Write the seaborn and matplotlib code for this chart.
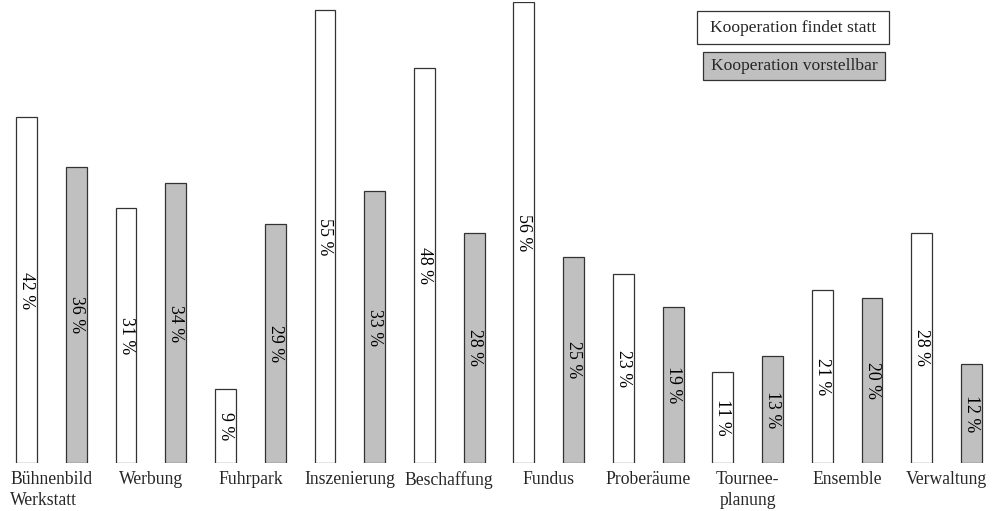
import matplotlib

matplotlib.use('Agg')
import matplotlib.pyplot as plt
from matplotlib.patches import Rectangle
import numpy as np
import pandas as pd
import seaborn as sns

categories = ['Bühnenbild\nWerkstatt', 'Werbung', 'Fuhrpark', 'Inszenierung', 'Beschaffung',
              'Fundus', 'Proberäume', 'Tournee-\nplanung', 'Ensemble', 'Verwaltung']
findet_statt = [42, 31, 9, 55, 48, 56, 23, 11, 21, 28]
vorstellbar = [36, 34, 29, 33, 28, 25, 19, 13, 20, 12]
series = ['Kooperation findet statt', 'Kooperation vorstellbar']
colors = ['white', '#c0c0c0']

df = pd.DataFrame({
    'Bereich': categories * 2,
    'Anteil': findet_statt + vorstellbar,
    'Serie': [series[0]] * len(categories) + [series[1]] * len(categories),
})

sns.set_style('white')
plt.rcParams['font.family'] = ['Liberation Serif', 'DejaVu Serif']

W, H = 995, 511
fig = plt.figure(figsize=(W / 100, H / 100), dpi=100)
ax = fig.add_axes([0, 0.0939, 1, 0.9022])

sns.barplot(data=df, x='Bereich', y='Anteil', hue='Serie', order=categories, hue_order=series,
            palette=colors, width=1.0, gap=0.58, edgecolor='#333333', linewidth=0.9,
            legend=False, ax=ax)

# Prozentwerte senkrecht in die Balkenmitte
for cont in ax.containers:
    for bar in cont:
        h = bar.get_height()
        ax.text(bar.get_x() + bar.get_width() / 2, h / 2, f'{h:.0f} %', rotation=270,
                ha='center', va='center', fontsize=12.8, color='black')

ax.set_xlim(-0.517, 9.486)
ax.set_ylim(0, 56)
ax.set_xlabel('')
ax.set_ylabel('')
ax.set_yticks([])
ax.tick_params(axis='x', length=0, pad=6, labelsize=12.7)
for lbl in ax.get_xticklabels():
    lbl.set_linespacing(1.3)
    lbl.set_multialignment('left' if lbl.get_text().startswith('Bühnen') else 'center')
sns.despine(ax=ax, left=True, bottom=True)

# Legende als umrahmte Textfelder
boxes = [(697, 11, 889, 44), (703, 52, 885, 80)]
for (x0, y0, x1, y1), name, c in zip(boxes, series, colors):
    fig.patches.append(Rectangle((x0 / W, 1 - y1 / H), (x1 - x0) / W, (y1 - y0) / H,
                                 transform=fig.transFigure, fc=c, ec='#333333', lw=0.9))
    fig.text((x0 + x1) / 2 / W, 1 - (y0 + y1) / 2 / H, name, ha='center', va='center',
             fontsize=12.6)

plt.savefig('out.png', dpi=100)
plt.close()
